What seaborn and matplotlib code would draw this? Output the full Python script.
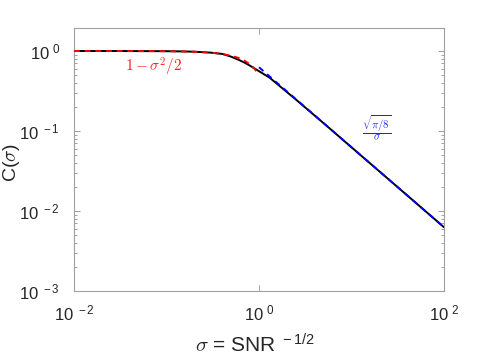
import numpy as np
import matplotlib
matplotlib.use("Agg")
import matplotlib.pyplot as plt
import matplotlib.ticker as mticker
import seaborn as sns

# values
sigma = [0.01, 0.03, 0.1, 0.15, 0.2, 0.3, 0.4, 0.5, 0.62, 0.7, 0.8, 1.0,
         1.3, 1.8, 2.5, 4.0, 6.0, 10.0, 30.0, 100.0]
c_sigma = [1.0, 1.0, 0.995, 0.989, 0.98, 0.955, 0.92, 0.85, 0.765, 0.715, 0.655, 0.56,
           0.465, 0.34, 0.248, 0.156, 0.1043, 0.0626, 0.0209, 0.00627]

# small sigma approximation (red dashed)
sigma_small = [0.01, 0.03, 0.1, 0.2, 0.3, 0.4, 0.5, 0.6, 0.7, 0.8, 0.9, 1.0]
c_small = [1.0, 1.0, 0.995, 0.98, 0.955, 0.92, 0.875, 0.82, 0.755, 0.68, 0.595, 0.5]

# large sigma approximation (blue dashed)
sigma_large = [1.0, 100.0]
c_large = [0.627, 0.00627]

x_ticks = [1e-2, 1e0, 1e2]
y_ticks = [1e-3, 1e-2, 1e-1, 1e0]
x_labels = [r'$\mathregular{10^{\ -2}}$', r'$\mathregular{10^{\ 0}}$', r'$\mathregular{10^{\ 2}}$']
y_labels = [r'$\mathregular{10^{\ -3}}$', r'$\mathregular{10^{\ -2}}$', r'$\mathregular{10^{\ -1}}$', r'$\mathregular{10^{\ 0}}$']

sns.set_style("ticks")
plt.rcParams['font.family'] = ['Liberation Sans', 'DejaVu Sans']
plt.rcParams['mathtext.fontset'] = 'cm'

fig = plt.figure(figsize=(4.91, 3.59), dpi=100)
ax = fig.add_axes([0.1507, 0.1894, 0.7536, 0.7326])

sns.lineplot(x=sigma, y=c_sigma, ax=ax, color='black', linewidth=1.4, zorder=2)
sns.lineplot(x=sigma_small, y=c_small, ax=ax, color='red', linewidth=1.4,
             linestyle=(0, (3, 2.5)), zorder=3)
sns.lineplot(x=sigma_large, y=c_large, ax=ax, color='blue', linewidth=1.4,
             linestyle=(0, (3, 2.5)), zorder=3)

ax.set_xscale('log')
ax.set_yscale('log')
ax.set_xlim(1e-2, 1e2)
ax.set_ylim(1e-3, 1.94)

ax.xaxis.set_major_locator(mticker.FixedLocator(x_ticks))
ax.xaxis.set_minor_locator(mticker.NullLocator())
ax.set_xticklabels(x_labels)
ax.yaxis.set_major_locator(mticker.FixedLocator(y_ticks))
ax.yaxis.set_minor_locator(mticker.LogLocator(base=10, subs=np.arange(2, 10)))
ax.yaxis.set_minor_formatter(mticker.NullFormatter())
ax.set_yticklabels(y_labels)

ax.tick_params(which='both', direction='in', top=True, right=True,
               color='#a0a0a0', labelcolor='#262626', labelsize=12, width=0.7)
ax.tick_params(which='major', length=4)
ax.tick_params(axis='x', which='major', pad=9)
ax.tick_params(axis='y', which='major', pad=10)
ax.tick_params(which='minor', length=2)
for sp in ax.spines.values():
    sp.set_color('#a0a0a0')
    sp.set_linewidth(0.8)

ax.set_ylabel(r'C($\sigma$)', fontsize=14, color='#262626', va='center')
ax.yaxis.set_label_coords(-0.168, 0.49)
ax.set_xlabel(r'$\sigma$ = SNR$^{\mathregular{\ -1/2}}$', fontsize=15, color='#262626',
              va='center')
ax.xaxis.set_label_coords(0.49, -0.205)

ax.text(0.073, 0.63, r'$1-\sigma^2/2$', color='#ff2020', fontsize=11,
        ha='center', va='center')
ax.text(18.9, 0.112, r'$\frac{\sqrt{\pi/8}}{\sigma}$', color='#2020ff', fontsize=11,
        ha='center', va='center')

fig.savefig('out.png', dpi=100)
